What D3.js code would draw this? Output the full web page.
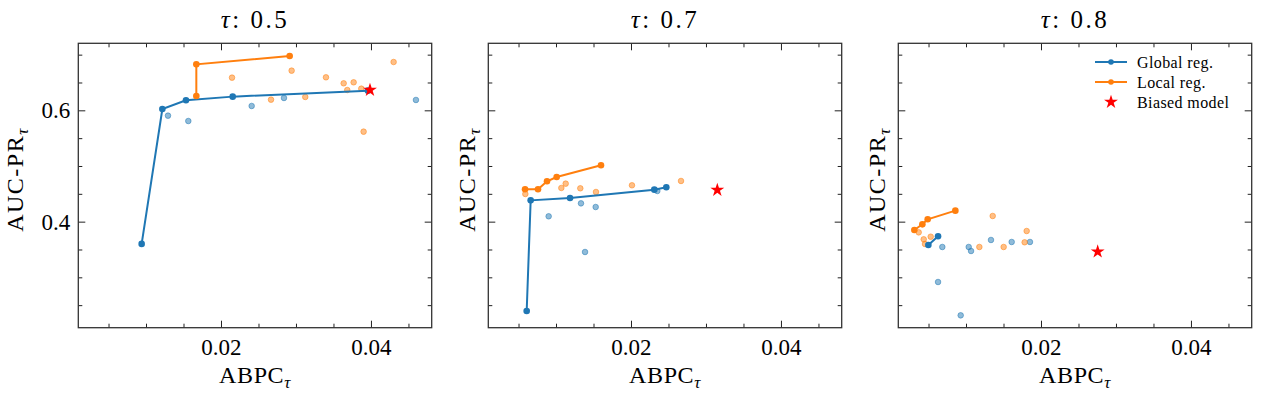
<!DOCTYPE html>
<html>
<head>
<meta charset="utf-8">
<script src="https://cdn.jsdelivr.net/npm/d3@7"></script>
<style>
  body { margin: 0; background: #fff; }
  text { font-family: "Liberation Serif", "DejaVu Serif", serif; fill: #000; }
</style>
</head>
<body>
<div id="chart"></div>
<script>
// panel titles
const tauLabels = ["0.5", "0.7", "0.8"];

// tau 0.5
const globalLine05 = [[0.00942, 0.360], [0.01218, 0.6024], [0.01533, 0.618], [0.02156, 0.6246], [0.0396, 0.6353]];
const localLine05 = [[0.01671, 0.6257], [0.01671, 0.6826], [0.02916, 0.6976]];
const globalPts05 = [[0.01293, 0.5904], [0.01564, 0.5808], [0.02409, 0.6078], [0.0284, 0.6222], [0.046, 0.6186]];
const localPts05 = [[0.02147, 0.6587], [0.02667, 0.6192], [0.02942, 0.6713], [0.03124, 0.624], [0.034, 0.6593],
  [0.03636, 0.6485], [0.03769, 0.6503], [0.03684, 0.6365], [0.03871, 0.6389], [0.03902, 0.5617], [0.04302, 0.6868]];
const biased05 = [0.03987, 0.6365];

// tau 0.7
const globalLine07 = [[0.00609, 0.2395], [0.00662, 0.4383], [0.01187, 0.4425], [0.02311, 0.4575], [0.02471, 0.4617]];
const localLine07 = [[0.00587, 0.4581], [0.0076, 0.4581], [0.0088, 0.4725], [0.01009, 0.4802], [0.016, 0.5012]];
const globalPts07 = [[0.00902, 0.4096], [0.01333, 0.4329], [0.01529, 0.4263], [0.01387, 0.3455], [0.02351, 0.4551]];
const localPts07 = [[0.00591, 0.4497], [0.01071, 0.4605], [0.01129, 0.4683], [0.01324, 0.4599], [0.01533, 0.4533],
  [0.02013, 0.4653], [0.02667, 0.4731]];
const biased07 = [0.03151, 0.4569];

// tau 0.8
const globalLine08 = [[0.00498, 0.3581], [0.00627, 0.3737]];
const localLine08 = [[0.00311, 0.385], [0.00418, 0.3952], [0.00489, 0.4042], [0.00858, 0.4198]];
const globalPts08 = [[0.00684, 0.3545], [0.00627, 0.2916], [0.00929, 0.2317], [0.01036, 0.3545], [0.01067, 0.3473],
  [0.01333, 0.3671], [0.01609, 0.3635], [0.01853, 0.3635]];
const localPts08 = [[0.00369, 0.3808], [0.00436, 0.3683], [0.00453, 0.3599], [0.00529, 0.373], [0.01178, 0.3545],
  [0.01356, 0.4102], [0.01502, 0.3545], [0.01782, 0.3629], [0.01809, 0.3832]];
const biased08 = [0.02756, 0.3461];

// ticks
const xMajor = [0.02, 0.04];
const xMinor = [0.005, 0.01, 0.015, 0.025, 0.03, 0.035, 0.045];
const yMajor = [0.4, 0.6];
const yMinor = [0.25, 0.3, 0.35, 0.45, 0.5, 0.55, 0.65, 0.7];

const legendNames = ["Global reg.", "Local reg.", "Biased model"];

const panels = [
  {g: globalLine05, l: localLine05, gp: globalPts05, lp: localPts05, b: biased05},
  {g: globalLine07, l: localLine07, gp: globalPts07, lp: localPts07, b: biased07},
  {g: globalLine08, l: localLine08, gp: globalPts08, lp: localPts08, b: biased08}
];

const blue = "#1f77b4", orange = "#ff7f0e";
const W = 1261, H = 398;
const lefts = [78.3, 488.3, 898.3],
      topY = 43.3, pw = 353.4, ph = 284.4;

const svg = d3.select("#chart").append("svg")
  .attr("width", W).attr("height", H);

const x = d3.scaleLinear().domain([0.00097, 0.0481]).range([0, pw]);
const y = d3.scaleLinear().domain([0.2095, 0.7204]).range([ph, 0]);

const line = d3.line().x(d => x(d[0])).y(d => y(d[1]));
const star = d3.symbol().type(d3.symbolStar).size(60);

// inward ticks, labels only where asked
function ticks(axis, scale, vals, len, pad) {
  return axis(scale)
    .tickValues(vals).tickSizeInner(-len).tickSizeOuter(0)
    .tickPadding(pad || 0)
    .tickFormat(pad ? d3.format(".2~f") : "");
}

panels.forEach(function(p, i) {
  const g = svg.append("g").attr("transform", "translate(" + lefts[i] + "," + topY + ")");

  const bottom = g.append("g").attr("transform", "translate(0," + ph + ")");
  bottom.append("g").call(ticks(d3.axisBottom, x, xMajor, 7, 11));
  bottom.append("g").call(ticks(d3.axisBottom, x, xMinor, 4));
  g.append("g").call(ticks(d3.axisTop, x, xMajor, 7));
  g.append("g").call(ticks(d3.axisTop, x, xMinor, 4));
  g.append("g").call(ticks(d3.axisLeft, y, yMajor, 7, i === 0 ? 8 : 0));
  g.append("g").call(ticks(d3.axisLeft, y, yMinor, 4));
  const right = g.append("g").attr("transform", "translate(" + pw + ",0)");
  right.append("g").call(ticks(d3.axisRight, y, yMajor, 7));
  right.append("g").call(ticks(d3.axisRight, y, yMinor, 4));
  g.selectAll(".domain").remove();
  g.selectAll(".tick line").attr("stroke", "#222").attr("stroke-width", 1);
  g.selectAll(".tick text").attr("font-size", 23).attr("font-family", "Liberation Serif").attr("fill", "#000");

  // faded runs
  g.selectAll(".gp").data(p.gp).enter().append("circle")
    .attr("cx", d => x(d[0])).attr("cy", d => y(d[1])).attr("r", 2.8)
    .attr("fill", blue).attr("fill-opacity", 0.5)
    .attr("stroke", blue).attr("stroke-opacity", 0.5).attr("stroke-width", 1);
  g.selectAll(".lp").data(p.lp).enter().append("circle")
    .attr("cx", d => x(d[0])).attr("cy", d => y(d[1])).attr("r", 2.8)
    .attr("fill", orange).attr("fill-opacity", 0.5)
    .attr("stroke", orange).attr("stroke-opacity", 0.5).attr("stroke-width", 1);

  // front lines
  [[p.g, blue], [p.l, orange]].forEach(function(s) {
    g.append("path").datum(s[0]).attr("d", line)
      .attr("fill", "none").attr("stroke", s[1]).attr("stroke-width", 2);
    g.selectAll(null).data(s[0]).enter().append("circle")
      .attr("cx", d => x(d[0])).attr("cy", d => y(d[1])).attr("r", 3.3)
      .attr("fill", s[1]);
  });

  g.append("path").attr("d", star)
    .attr("transform", "translate(" + x(p.b[0]) + "," + y(p.b[1]) + ")")
    .attr("fill", "red");

  // frame
  g.append("rect").attr("width", pw).attr("height", ph)
    .attr("fill", "none").attr("stroke", "#333").attr("stroke-width", 1.3);

  // title
  const t = svg.append("text").attr("x", lefts[i] + pw / 2).attr("y", 28)
    .attr("text-anchor", "middle").attr("font-size", 25).attr("letter-spacing", 2.5);
  t.append("tspan").attr("font-style", "italic").text("τ");
  t.append("tspan").text(":");
  t.append("tspan").attr("dx", 9).text(tauLabels[i]);

  // x label
  const xl = svg.append("text").attr("x", lefts[i] + pw / 2).attr("y", 383)
    .attr("text-anchor", "middle").attr("font-size", 24).attr("letter-spacing", 0.6);
  xl.append("tspan").text("ABPC");
  xl.append("tspan").attr("font-style", "italic").attr("font-size", 17).attr("dy", 5).text("τ");

  // y label
  const yl = svg.append("text")
    .attr("transform", "translate(" + (lefts[i] - (i === 0 ? 55 : 13)) + "," + (topY + ph / 2 - 6) + ") rotate(-90)")
    .attr("text-anchor", "middle").attr("font-size", 24).attr("letter-spacing", 1.5);
  yl.append("tspan").text("AUC-PR");
  yl.append("tspan").attr("font-style", "italic").attr("font-size", 17).attr("dy", 5).text("τ");
});

// legend in last panel
const lg = svg.append("g").attr("transform", "translate(1095,62)");
[blue, orange].forEach(function(c, k) {
  lg.append("line").attr("x1", 0).attr("x2", 32).attr("y1", k * 20).attr("y2", k * 20)
    .attr("stroke", c).attr("stroke-width", 2);
  lg.append("circle").attr("cx", 16).attr("cy", k * 20).attr("r", 2.8).attr("fill", c);
});
lg.append("path").attr("d", star).attr("transform", "translate(16,40)").attr("fill", "red");
legendNames.forEach(function(n, k) {
  lg.append("text").attr("x", 42).attr("y", k * 20).attr("dy", "0.35em")
    .attr("font-size", 16).attr("letter-spacing", 0.4).text(n);
});
</script>
</body>
</html>
